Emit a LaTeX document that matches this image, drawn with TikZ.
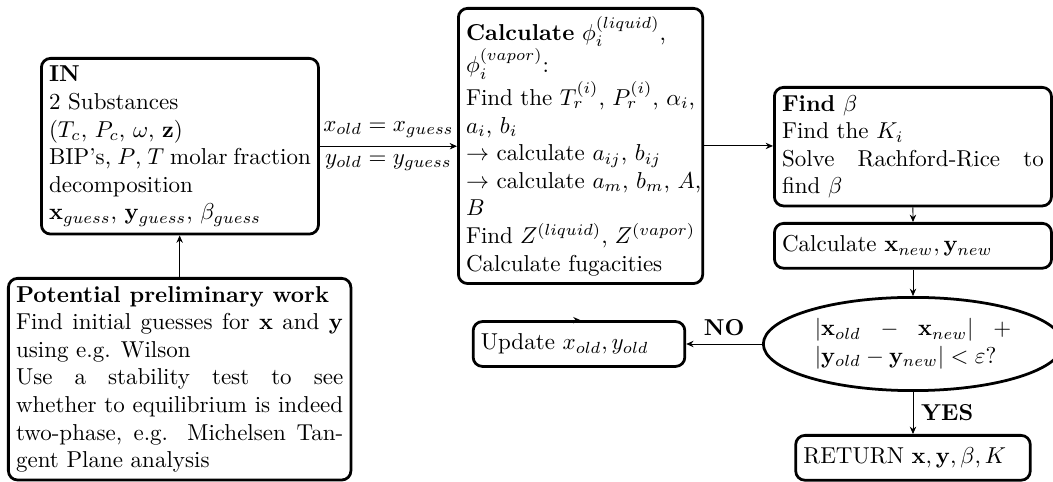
\documentclass[tikz,border=0pt]{standalone}
\usetikzlibrary{shapes.geometric,arrows.meta}
\begin{document}
\begin{tikzpicture}[x=0.43478pt,y=-0.43478pt,
  box/.style={draw, very thick, rounded corners=4pt, text width=#1, align=justify},
  single/.style={box=#1, minimum height=19.5pt},
  dec/.style={draw, very thick, ellipse, text width=3cm, align=justify},
  conn/.style={-{Stealth[length=3.2pt,width=2.8pt]}, thin},
  lbl/.style={font=\bfseries}
]
\useasboundingbox (0,0) rectangle (1053,482);
\node[box=4cm, anchor=north west] (in) at (40,57) {\textbf{IN}\\
2 Substances\\
$(T_c,\, P_c,\, \omega,\, \mathbf{z})$\\
BIP's, $P$, $T$ molar fraction decomposition\\
$\mathbf{x}_{guess}$, $\mathbf{y}_{guess}$, $\beta_{guess}$};
\node[box=5cm, anchor=north west] (pot) at (7,277) {\textbf{Potential preliminary work}\\
Find initial guesses for $\mathbf{x}$ and $\mathbf{y}$ using e.g. Wilson\\
Use a stability test to see whether to equilibrium is indeed two-phase, e.g. Michelsen Tangent Plane analysis};
\node[box=3.5cm, anchor=north west] (calc) at (457,7) {\textbf{Calculate} $\phi_i^{(liquid)}$,\\
$\phi_i^{(vapor)}$:\\
Find the $T_r^{(i)}$, $P_r^{(i)}$, $\alpha_i$, $a_i$, $b_i$\\
$\rightarrow$ calculate $a_{ij}$, $b_{ij}$\\
\mbox{$\rightarrow$ calculate $a_m$, $b_m$, $A$,} $B$\\
Find $Z^{(liquid)}$, $Z^{(vapor)}$\\
Calculate fugacities};
\node[box=4cm, anchor=north west] (findb) at (773,86) {\textbf{Find} $\beta$\\
Find the $K_i$\\
Solve Rachford-Rice to find $\beta$};
\node[single=4cm, anchor=north] (cnew) at (913,222) {Calculate $\mathbf{x}_{new}, \mathbf{y}_{new}$};
\node[dec] (ell) at (913,344) {$|\mathbf{x}_{old} - \mathbf{x}_{new}| + |\mathbf{y}_{old} - \mathbf{y}_{new}| < \varepsilon$?};
\node[single=3.35cm, anchor=north] (ret) at (913,434) {RETURN $\mathbf{x}, \mathbf{y}, \beta, K$};
\node[single=3cm] (upd) at (579,344) {Update $x_{old}, y_{old}$};

\draw[conn] (in.east) -- (in.east -| calc.west)
  node[midway, above] {$x_{old} = x_{guess}$}
  node[midway, below] {$y_{old} = y_{guess}$};
\draw[conn] (pot.north) -- (pot.north |- in.south);
\draw[conn] (calc.east) -- (calc.east -| findb.west);
\draw[conn] (findb.south) -- (cnew.north);
\draw[conn] (cnew.south) -- (ell.north);
\draw[conn] (ell.west) -- (upd.east) node[midway, above, lbl] {NO};
\draw[conn] (ell.south) -- (ret.north) node[midway, right, lbl] {YES};
\draw[conn] (upd.north) -- (upd.north -| calc.south);
\end{tikzpicture}
\end{document}
